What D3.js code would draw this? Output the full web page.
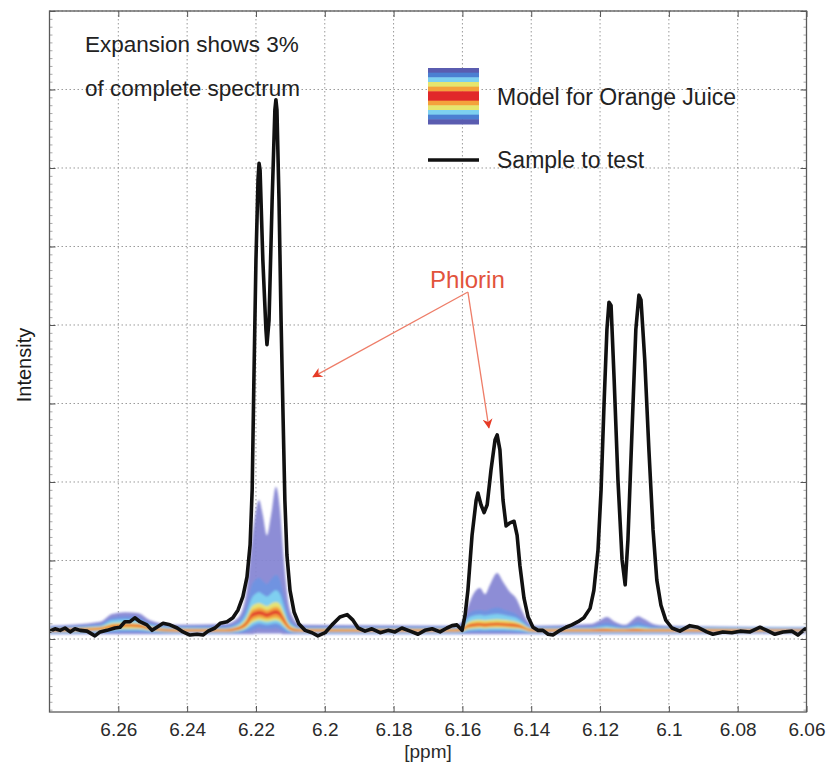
<!DOCTYPE html>
<html><head><meta charset="utf-8">
<script src="https://cdn.jsdelivr.net/npm/d3@7"></script>
<style>
body{margin:0;background:#fff}
text{font-family:"Liberation Sans", Arial, Helvetica, sans-serif}
</style>
</head><body>
<svg id="chart" width="833" height="768"></svg>
<script>
// ---------- DATA ----------
const xTicks = [6.26, 6.24, 6.22, 6.2, 6.18, 6.16, 6.14, 6.12, 6.1, 6.08, 6.06];
const xTickLabels = ["6.26","6.24","6.22","6.2","6.18","6.16","6.14","6.12","6.1","6.08","6.06"];
const yTicks = [0,1,2,3,4,5,6,7,8];
const yMinorTicks = d3.range(-9, 80).map(d => d / 10);

// Sample to test (black line)
const samplePpm = [6.2799,6.2784,6.2769,6.2755,6.2740,6.2726,6.2711,6.2691,6.2668,6.2653,6.2633,6.2610,6.2595,6.2581,6.2566,6.2552,6.2537,6.2517,6.2502,6.2488,6.2470,6.2450,6.2429,6.2412,6.2392,6.2371,6.2354,6.2339,6.2319,6.2304,6.2284,6.2267,6.2252,6.2238,6.2226,6.2217,6.2211,6.2206,6.2200,6.2194,6.2191,6.2188,6.2180,6.2171,6.2168,6.2162,6.2153,6.2145,6.2142,6.2139,6.2133,6.2127,6.2121,6.2116,6.2110,6.2101,6.2089,6.2075,6.2057,6.2037,6.2020,6.1999,6.1979,6.1956,6.1935,6.1918,6.1903,6.1883,6.1863,6.1839,6.1816,6.1796,6.1776,6.1752,6.1729,6.1709,6.1688,6.1665,6.1645,6.1630,6.1616,6.1601,6.1592,6.1584,6.1572,6.1560,6.1555,6.1546,6.1537,6.1528,6.1517,6.1505,6.1499,6.1491,6.1482,6.1473,6.1462,6.1450,6.1441,6.1433,6.1421,6.1409,6.1395,6.1380,6.1366,6.1351,6.1337,6.1316,6.1299,6.1282,6.1264,6.1247,6.1229,6.1218,6.1206,6.1197,6.1188,6.1180,6.1174,6.1168,6.1159,6.1148,6.1136,6.1127,6.1119,6.1107,6.1096,6.1087,6.1081,6.1070,6.1058,6.1046,6.1035,6.1023,6.1009,6.0991,6.0968,6.0939,6.0916,6.0890,6.0872,6.0843,6.0817,6.0793,6.0764,6.0735,6.0715,6.0692,6.0668,6.0642,6.0625,6.0604];
const sampleIntensity = [0.10,0.13,0.11,0.14,0.09,0.13,0.11,0.10,0.04,0.09,0.11,0.14,0.15,0.22,0.22,0.27,0.22,0.18,0.11,0.15,0.20,0.18,0.14,0.09,0.05,0.06,0.05,0.10,0.14,0.20,0.22,0.27,0.37,0.54,0.79,1.20,1.90,3.30,4.83,5.85,6.06,5.97,4.83,3.94,3.75,4.06,5.59,6.74,6.87,6.74,5.59,4.06,2.79,1.77,1.07,0.62,0.34,0.19,0.11,0.08,0.04,0.08,0.18,0.28,0.31,0.24,0.14,0.10,0.13,0.08,0.11,0.09,0.14,0.10,0.06,0.11,0.13,0.09,0.14,0.17,0.18,0.11,0.31,0.62,1.32,1.77,1.86,1.71,1.61,1.71,2.15,2.54,2.60,2.41,1.77,1.44,1.48,1.50,1.32,0.94,0.52,0.28,0.15,0.11,0.11,0.06,0.05,0.11,0.15,0.18,0.22,0.27,0.39,0.62,1.13,1.90,3.04,3.94,4.29,4.25,3.30,2.03,1.01,0.69,1.26,2.66,3.94,4.38,4.32,3.55,2.41,1.39,0.75,0.43,0.24,0.14,0.10,0.17,0.15,0.09,0.06,0.09,0.08,0.10,0.09,0.15,0.11,0.06,0.09,0.10,0.05,0.13];

// Model for Orange Juice: nested percentile bands (upper / lower edges)
const modelPpm = [6.280,6.2653,6.2618,6.2581,6.2543,6.2508,6.2435,6.2290,6.2252,6.2229,6.2211,6.2200,6.2191,6.2180,6.2168,6.2156,6.2142,6.2130,6.2119,6.2107,6.2092,6.2072,6.1622,6.1598,6.1584,6.1566,6.1549,6.1534,6.1520,6.1499,6.1482,6.1462,6.1444,6.1427,6.1409,6.1389,6.1229,6.1200,6.1180,6.1157,6.1127,6.1107,6.1090,6.1070,6.1046,6.1011,6.060];
const purpleHigh = [.17,.22,.32,.34,.33,.24,.18,.19,.27,.56,1.26,1.64,1.77,1.58,1.32,1.58,1.94,1.64,1.01,.50,.27,.18,.17,.24,.41,.59,.65,.57,.69,.84,.73,.60,.52,.36,.22,.17,.19,.24,.28,.22,.18,.24,.29,.25,.19,.17,.15];
const blueHigh   = [.155,.19,.27,.29,.28,.20,.16,.165,.22,.40,.70,.76,.78,.74,.70,.76,.82,.75,.55,.32,.20,.155,.155,.20,.31,.36,.37,.36,.38,.40,.38,.35,.32,.26,.18,.155,.155,.19,.21,.18,.16,.19,.22,.19,.165,.155,.145];
const cyanHigh   = [.14,.17,.24,.25,.24,.18,.145,.14,.19,.32,.53,.58,.60,.57,.54,.58,.62,.57,.42,.25,.17,.14,.14,.175,.26,.30,.31,.30,.31,.32,.31,.29,.27,.22,.16,.14,.14,.155,.165,.15,.14,.155,.17,.155,.14,.14,.135];
const yellowHigh = [.13,.155,.20,.21,.20,.16,.13,.13,.165,.26,.42,.45,.46,.44,.42,.45,.47,.44,.33,.21,.15,.13,.13,.155,.21,.24,.245,.24,.245,.25,.245,.235,.22,.19,.145,.13,.13,.135,.14,.135,.13,.135,.14,.135,.13,.13,.125];
const orangeHigh = [.125,.145,.185,.195,.19,.15,.125,.125,.155,.23,.37,.39,.40,.39,.37,.39,.41,.38,.29,.19,.14,.125,.125,.145,.19,.21,.215,.21,.215,.22,.215,.21,.20,.175,.135,.125,.125,.13,.13,.125,.125,.13,.13,.125,.125,.125,.12];
const redHigh    = [.115,.135,.17,.18,.175,.14,.115,.115,.14,.21,.33,.35,.36,.35,.33,.35,.37,.34,.26,.17,.125,.115,.115,.13,.17,.19,.195,.19,.195,.20,.195,.19,.18,.16,.125,.115,.115,.12,.12,.115,.115,.12,.12,.115,.115,.115,.115];
const redLow     = [.105,.125,.155,.165,.16,.13,.105,.105,.125,.18,.28,.30,.31,.30,.28,.30,.32,.29,.22,.15,.115,.105,.105,.12,.155,.17,.175,.17,.175,.18,.175,.17,.16,.145,.115,.105,.105,.105,.105,.105,.105,.105,.105,.105,.105,.105,.105];
const orangeLow  = [.095,.115,.14,.15,.145,.12,.095,.095,.115,.16,.24,.26,.27,.26,.25,.26,.27,.25,.19,.13,.10,.095,.095,.11,.14,.15,.155,.15,.155,.16,.155,.15,.145,.13,.105,.095,.095,.095,.095,.095,.095,.095,.095,.095,.095,.095,.10];
const yellowLow  = [.09,.105,.125,.13,.13,.11,.09,.09,.105,.14,.21,.23,.24,.23,.22,.23,.24,.22,.17,.12,.095,.09,.09,.10,.125,.135,.14,.135,.14,.14,.14,.135,.13,.12,.095,.09,.09,.09,.09,.09,.09,.09,.09,.09,.09,.09,.095];
const cyanLow    = [.08,.09,.105,.11,.11,.095,.08,.08,.09,.12,.17,.19,.20,.19,.18,.19,.20,.18,.14,.10,.085,.08,.08,.085,.105,.11,.115,.11,.115,.115,.115,.11,.105,.10,.085,.08,.08,.08,.08,.08,.08,.08,.08,.08,.08,.08,.09];
const blueLow    = [.07,.075,.08,.085,.085,.075,.07,.07,.075,.09,.11,.13,.14,.13,.13,.13,.14,.12,.10,.08,.07,.07,.07,.07,.08,.085,.085,.085,.085,.085,.085,.085,.08,.08,.07,.07,.07,.07,.07,.07,.07,.07,.07,.07,.07,.07,.08];
const purpleLow  = [.06,.06,.06,.06,.06,.06,.06,.06,.06,.06,.06,.07,.07,.07,.07,.07,.07,.07,.06,.06,.06,.06,.06,.06,.06,.06,.06,.06,.06,.06,.06,.06,.06,.06,.06,.06,.06,.06,.06,.06,.06,.06,.06,.06,.06,.06,.07];
const bandHighs  = [purpleHigh, blueHigh, cyanHigh, yellowHigh, orangeHigh, redHigh];
const bandLows   = [purpleLow, blueLow, cyanLow, yellowLow, orangeLow, redLow];
const bandColors = ["#8383d3", "#6f93e2", "#7fd3f0", "#ebe46c", "#f3a13c", "#e2402c"];
const legendStripes = ["#5a5cb0","#4b7fd2","#7dd0f0","#e6e66e","#f4a23c","#e1282a","#e1282a","#f4a23c","#e6e66e","#7dd0f0","#4b7fd2","#5a5cb0"];

// Annotations
const arrowFrom = [6.1584, 4.42];
const arrowTips = [[6.2034, 3.34], [6.1523, 2.69]];
const phlorinAt = [6.1694, 4.47];

// ---------- LAYOUT ----------
const plot = {left: 49.5, right: 806.5, top: 11, bottom: 712};
const x = d3.scaleLinear().domain([6.28, 6.06]).range([plot.left, plot.right]);
const y = d3.scaleLinear().domain([-0.93, 8]).range([plot.bottom, plot.top]);

const svg = d3.select("#chart");
const defs = svg.append("defs");
defs.append("clipPath").attr("id", "clip").append("rect")
  .attr("x", plot.left).attr("y", plot.top)
  .attr("width", plot.right - plot.left).attr("height", plot.bottom - plot.top);
defs.append("filter").attr("id", "soft").append("feGaussianBlur").attr("stdDeviation", 0.8);
defs.append("marker").attr("id", "head").attr("viewBox", "0 0 10 10")
  .attr("refX", 9).attr("refY", 5).attr("markerWidth", 14).attr("markerHeight", 10)
  .attr("markerUnits", "userSpaceOnUse").attr("orient", "auto")
  .append("path").attr("d", "M0,0 L10,5 L0,10 L3,5 Z").attr("fill", "#e63b26");

// grid
const grid = svg.append("g");
grid.selectAll("line.v").data(xTicks).join("line").attr("class", "v")
  .attr("x1", d => x(d)).attr("x2", d => x(d))
  .attr("y1", plot.top).attr("y2", plot.bottom)
  .attr("stroke", "#9a9a9a").attr("stroke-width", 1).attr("stroke-dasharray", "1.5,2.5");
grid.selectAll("line.h").data(yTicks).join("line").attr("class", "h")
  .attr("x1", plot.left).attr("x2", plot.right)
  .attr("y1", d => y(d)).attr("y2", d => y(d))
  .attr("stroke", "#9a9a9a").attr("stroke-width", 1).attr("stroke-dasharray", "1.5,2.5");

// model bands
const data = svg.append("g").attr("clip-path", "url(#clip)");
const bands = data.append("g").attr("filter", "url(#soft)");
bandHighs.forEach((hi, k) => {
  const lo = bandLows[k];
  const area = d3.area()
    .x((d, i) => x(modelPpm[i]))
    .y0((d, i) => y(lo[i]))
    .y1((d, i) => y(hi[i]))
    .curve(d3.curveMonotoneX);
  bands.append("path").datum(hi).attr("d", area)
    .attr("fill", bandColors[k]).attr("fill-opacity", k === 0 ? 0.92 : 0.95);
});

// sample line
const sample = samplePpm.map((p, i) => [p, sampleIntensity[i]]).filter(d => d[1] !== undefined);
const line = d3.line().x(d => x(d[0])).y(d => y(d[1])).curve(d3.curveLinear);
data.append("path").datum(sample).attr("d", line)
  .attr("fill", "none").attr("stroke", "#111").attr("stroke-width", 3.6)
  .attr("stroke-linejoin", "round").attr("stroke-linecap", "round");

// axes (box with inward ticks)
const axG = svg.append("g");
const xAxis = d3.axisBottom(x).tickValues(xTicks)
  .tickFormat((d, i) => xTickLabels[i]).tickSizeInner(-6).tickSizeOuter(0).tickPadding(11);
const xa = axG.append("g").attr("transform", `translate(0,${plot.bottom})`).call(xAxis);
xa.select(".domain").remove();
xa.selectAll(".tick line").attr("stroke", "#555");
xa.selectAll("text").attr("font-size", 19).attr("fill", "#2a2a2a")
  .attr("font-family", "'Liberation Sans', Arial, sans-serif");

const xTop = d3.axisTop(x).tickValues(xTicks).tickFormat("").tickSizeInner(-6).tickSizeOuter(0);
const xt = axG.append("g").attr("transform", `translate(0,${plot.top})`).call(xTop);
xt.select(".domain").remove(); xt.selectAll(".tick line").attr("stroke", "#555");

[[d3.axisLeft, plot.left], [d3.axisRight, plot.right]].forEach(([fn, px]) => {
  const minor = axG.append("g").attr("transform", `translate(${px},0)`)
    .call(fn(y).tickValues(yMinorTicks).tickFormat("").tickSizeInner(-3).tickSizeOuter(0));
  minor.select(".domain").remove();
  minor.selectAll(".tick line").attr("stroke", "#aaa");
  const major = axG.append("g").attr("transform", `translate(${px},0)`)
    .call(fn(y).tickValues(yTicks).tickFormat("").tickSizeInner(-6).tickSizeOuter(0));
  major.select(".domain").remove();
  major.selectAll(".tick line").attr("stroke", "#555");
});

axG.append("rect").attr("x", plot.left).attr("y", plot.top)
  .attr("width", plot.right - plot.left).attr("height", plot.bottom - plot.top)
  .attr("fill", "none").attr("stroke", "#5a5a5a").attr("stroke-width", 1.3);

// axis titles
svg.append("text").attr("x", (plot.left + plot.right) / 2).attr("y", 758)
  .attr("text-anchor", "middle").attr("font-size", 19).attr("fill", "#2a2a2a").text("[ppm]");
svg.append("text").attr("transform", "translate(31,365) rotate(-90)")
  .attr("text-anchor", "middle").attr("font-size", 20).attr("fill", "#1a1a1a").text("Intensity");

// expansion note
const note = svg.append("g").attr("font-size", 22.5).attr("fill", "#222");
note.append("text").attr("x", 85).attr("y", 52).text("Expansion shows 3%");
note.append("text").attr("x", 85).attr("y", 96).text("of complete spectrum");

// legend
const leg = svg.append("g").attr("transform", "translate(428,68)");
const stripeH = 56 / legendStripes.length;
leg.selectAll("rect").data(legendStripes).join("rect")
  .attr("x", 0).attr("y", (d, i) => i * stripeH).attr("width", 51).attr("height", stripeH + 0.5)
  .attr("fill", d => d);
leg.append("text").attr("x", 69).attr("y", 37).attr("font-size", 23).attr("fill", "#222").text("Model for Orange Juice");
leg.append("line").attr("x1", 0).attr("x2", 51).attr("y1", 92).attr("y2", 92)
  .attr("stroke", "#111").attr("stroke-width", 3.5);
leg.append("text").attr("x", 69).attr("y", 100).attr("font-size", 23).attr("fill", "#222").text("Sample to test");

// Phlorin annotation
const ann = svg.append("g");
arrowTips.forEach(t => {
  ann.append("line")
    .attr("x1", x(arrowFrom[0])).attr("y1", y(arrowFrom[1]))
    .attr("x2", x(t[0])).attr("y2", y(t[1]))
    .attr("stroke", "#ee7d68").attr("stroke-width", 1.3)
    .attr("marker-end", "url(#head)");
});
ann.append("text").attr("x", x(phlorinAt[0])).attr("y", y(phlorinAt[1]))
  .attr("font-size", 24).attr("fill", "#e2533c").text("Phlorin");
</script>
</body></html>
